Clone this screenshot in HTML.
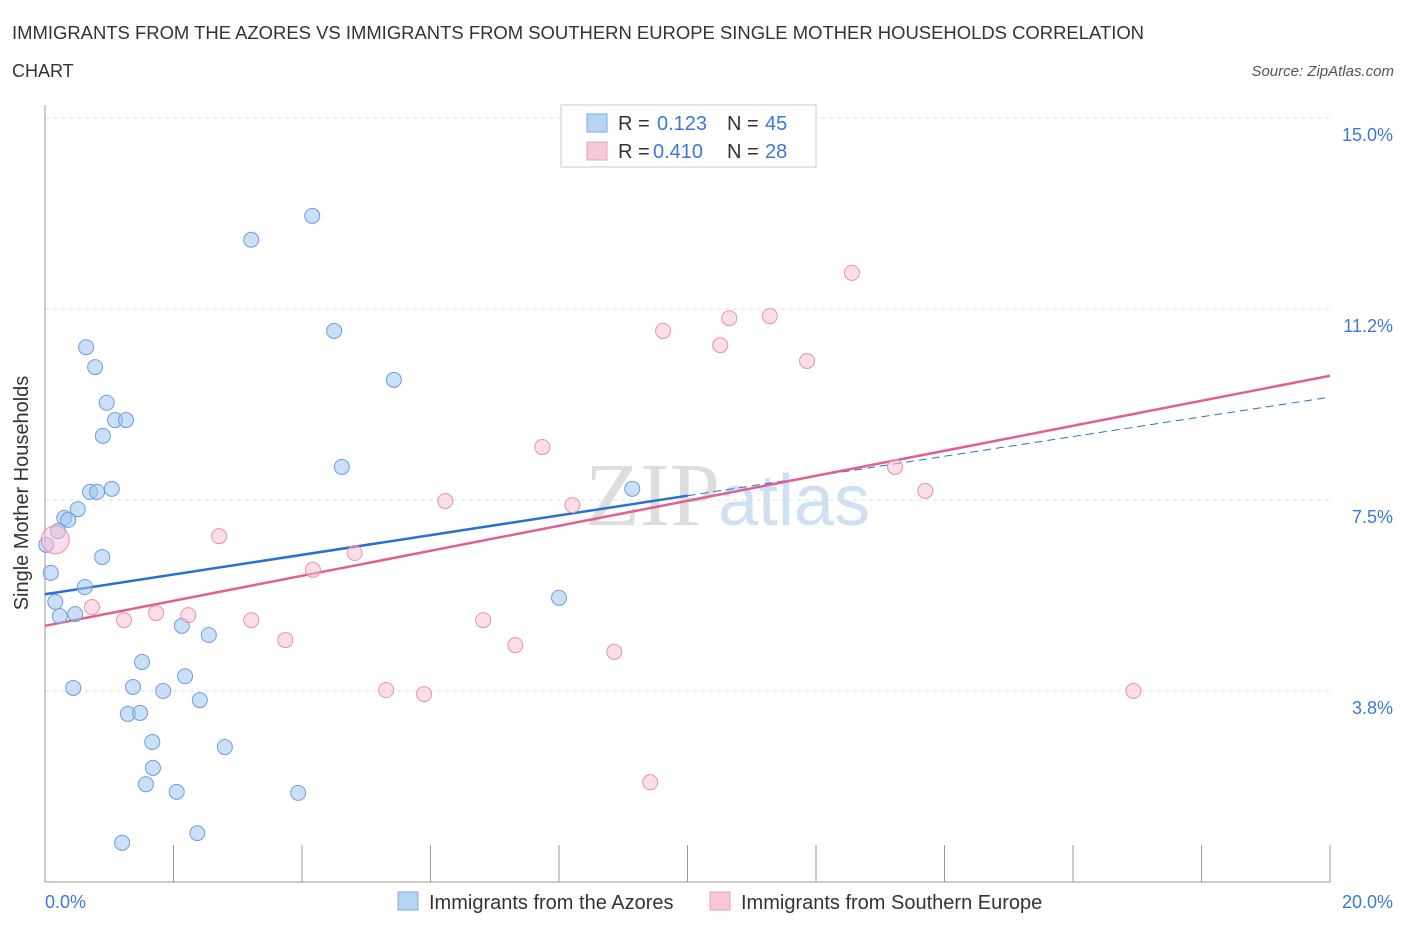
<!DOCTYPE html>
<html><head><meta charset="utf-8"><style>
body{margin:0;background:#fff;font-family:"Liberation Sans",sans-serif;}
</style></head><body>
<svg id="chart" width="1406" height="930" xmlns="http://www.w3.org/2000/svg">
<text x="12" y="39" font-size="18" fill="#333" textLength="1132" lengthAdjust="spacingAndGlyphs">IMMIGRANTS FROM THE AZORES VS IMMIGRANTS FROM SOUTHERN EUROPE SINGLE MOTHER HOUSEHOLDS CORRELATION</text>
<text x="12" y="77" font-size="18" fill="#333">CHART</text>
<text x="1394" y="76" font-size="15" fill="#555" font-style="italic" text-anchor="end">Source: ZipAtlas.com</text>
<text x="720" y="525" font-size="90" fill="#ddd" text-anchor="end" font-family="Liberation Serif,serif">ZIP</text>
<text x="718" y="525" font-size="72" fill="#cfe0f2">atlas</text>
<g id="grid"></g><g id="axes"></g><g id="lines"></g><g id="pts"></g>
<text x="28" y="493" font-size="20" fill="#333" text-anchor="middle" transform="rotate(-90 28 493)">Single Mother Households</text>
<g>
<rect x="561" y="105" width="255" height="62" fill="#fff" stroke="#ccc"/>
<rect x="587" y="114" width="20" height="18" fill="#b8d4f5" stroke="#7aa8e0"/>
<text x="618" y="130" font-size="20" fill="#333">R =</text><text x="657" y="130" font-size="20" fill="#3b78d8">0.123</text>
<text x="727" y="130" font-size="20" fill="#333">N =</text><text x="765" y="130" font-size="20" fill="#3b78d8">45</text>
<rect x="587" y="142" width="20" height="18" fill="#f9c8d8" stroke="#e8a0b8"/>
<text x="618" y="158" font-size="20" fill="#333">R =</text><text x="653" y="158" font-size="20" fill="#3b78d8">0.410</text>
<text x="727" y="158" font-size="20" fill="#333">N =</text><text x="765" y="158" font-size="20" fill="#3b78d8">28</text>
</g>
<g>
<rect x="398" y="892" width="20" height="18" fill="#b8d4f5" stroke="#7aa8e0"/>
<text x="429" y="909" font-size="20" fill="#333">Immigrants from the Azores</text>
<rect x="710" y="892" width="20" height="18" fill="#f9c8d8" stroke="#e8a0b8"/>
<text x="741" y="909" font-size="20" fill="#333">Immigrants from Southern Europe</text>
</g>
</svg>
<script>
const yTicks=[3.75,7.5,11.25,15];
const yTickLabels=["3.8%","7.5%","11.2%","15.0%"];
const xTicks=[0,2,4,6,8,10,12,14,16,18,20];
const blueX=[0.02,0.09,0.16,0.23,0.20,0.30,0.36,0.44,0.47,0.51,0.62,0.64,0.70,0.78,0.81,0.89,0.90,0.96,1.04,1.09,1.26,1.20,1.29,1.37,1.48,1.51,1.57,1.67,1.68,1.84,2.05,2.13,2.18,2.37,2.41,2.55,2.80,3.21,3.94,4.16,4.50,4.62,5.43,8.00,9.14];
const blueY=[6.62,6.07,5.50,5.22,6.89,7.15,7.11,3.81,5.26,7.32,5.79,10.50,7.66,10.11,7.66,6.38,8.76,9.41,7.72,9.07,9.07,0.77,3.30,3.83,3.32,4.32,1.92,2.75,2.24,3.75,1.77,5.03,4.04,0.96,3.57,4.85,2.65,12.61,1.75,13.08,10.82,8.15,9.86,5.58,7.72];
const pinkX=[0.16,0.73,1.23,1.73,2.23,2.71,3.21,3.74,4.17,4.82,5.31,5.90,6.23,6.82,7.32,7.74,8.21,8.86,9.42,9.62,10.51,10.65,11.28,11.86,12.56,13.23,13.70,16.94];
const pinkY=[6.72,5.40,5.14,5.28,5.24,6.79,5.14,4.75,6.13,6.46,3.77,3.69,7.48,5.14,4.65,8.54,7.40,4.52,1.96,10.82,10.54,11.07,11.11,10.23,11.96,8.15,7.68,3.75];
const blueTrend=[5.65,9.52];
const pinkTrend=[5.03,9.94];
const X=v=>45+v*64.25, Y=v=>882-v*50.93;
const NS="http://www.w3.org/2000/svg";
function mk(t,a,p){const e=document.createElementNS(NS,t);for(const k in a)e.setAttribute(k,a[k]);p.appendChild(e);return e;}
const grid=document.getElementById('grid'),axes=document.getElementById('axes'),lines=document.getElementById('lines'),pts=document.getElementById('pts');
yTicks.forEach((t,i)=>{
 const l=mk('line',{x1:45,x2:1330,y1:Y(t),y2:Y(t),stroke:'#ddd','stroke-dasharray':'4,4'},grid);
 
 
 const tx=mk('text',{x:1393,y:Y(t)+23,'font-size':18,fill:'#3b78d8','text-anchor':'end'},axes);
 tx.textContent=yTickLabels[i];
 
 
});
mk('line',{x1:45,x2:45,y1:105,y2:882,stroke:'#999'},axes);
mk('line',{x1:45,x2:1330,y1:882,y2:882,stroke:'#999'},axes);
xTicks.forEach(t=>{
 const l=mk('line',{x1:X(t),x2:X(t),y1:845,y2:882,stroke:'#999'},axes);
 
 
});
const x0=mk('text',{x:45,y:908,'font-size':18,fill:'#3b78d8'},axes);x0.textContent='0.0%';


const x1=mk('text',{x:1393,y:908,'font-size':18,fill:'#3b78d8','text-anchor':'end'},axes);x1.textContent='20.0%';


blueX.forEach((v,i)=>{
 const c=mk('circle',{cx:X(v),cy:Y(blueY[i]),r:7.5,fill:'rgba(160,196,240,0.55)',stroke:'#6a9ee0','stroke-width':1},pts);
 
 
});
pinkX.forEach((v,i)=>{
 const c=mk('circle',{cx:X(v),cy:Y(pinkY[i]),r:i==0?14:7.5,fill:'rgba(248,190,210,0.5)',stroke:'#e890b0','stroke-width':1},pts);
 
 
});
const bm=blueTrend[0]+(blueTrend[1]-blueTrend[0])*0.5;
const b1=mk('line',{x1:X(0),y1:Y(blueTrend[0]),x2:X(10),y2:Y(bm),stroke:'#2a70d0','stroke-width':2.5},lines);


const b2=mk('line',{x1:X(10),y1:Y(bm),x2:X(20),y2:Y(blueTrend[1]),stroke:'#2a70d0','stroke-width':1,'stroke-dasharray':'8,5'},lines);


const p1=mk('line',{x1:X(0),y1:Y(pinkTrend[0]),x2:X(20),y2:Y(pinkTrend[1]),stroke:'#e0608e','stroke-width':2.5},lines);


</script>
</body></html>
